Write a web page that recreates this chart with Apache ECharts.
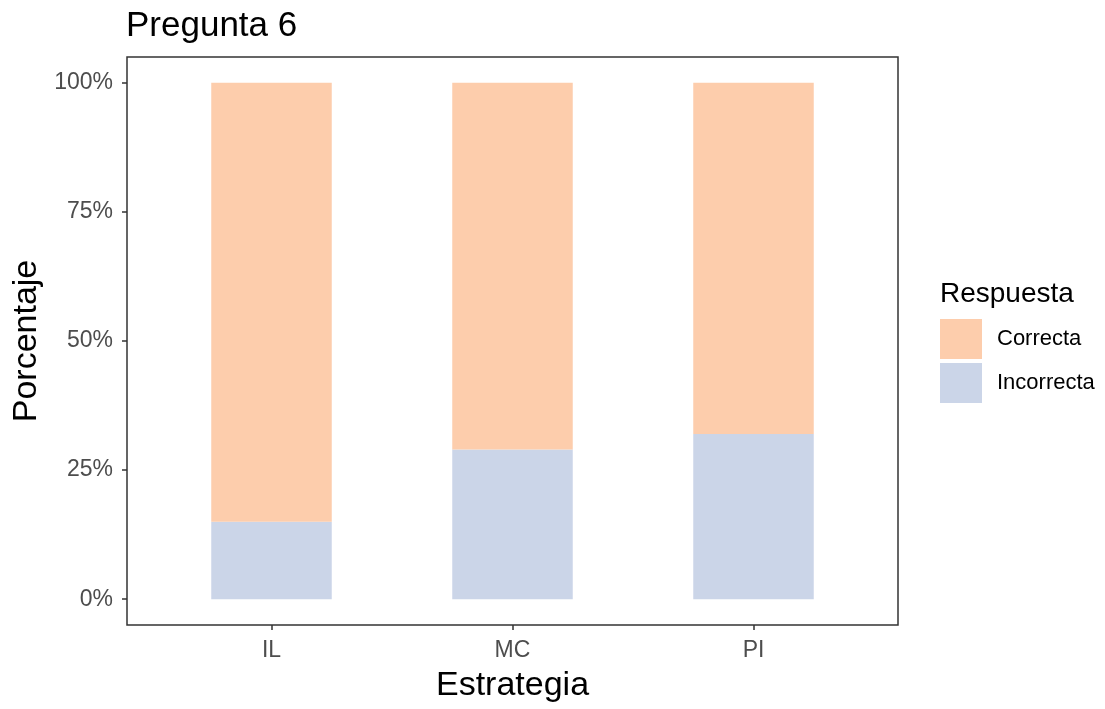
<!DOCTYPE html>
<html>
<head>
<meta charset="utf-8">
<script src="https://cdn.jsdelivr.net/npm/echarts@6/dist/echarts.min.js"></script>
<style>html,body{margin:0;padding:0;background:#fff;}#c{width:1105px;height:709px;}</style>
</head>
<body>
<div id="c"></div>
<script>
const categories = ['IL', 'MC', 'PI'];
const incorrecta = [15, 29, 32];
const correcta = [85, 71, 68];
const yTicks = [0, 25, 50, 75, 100];
const seriesNames = ['Correcta', 'Incorrecta'];
const colors = { Correcta: '#FDCDAC', Incorrecta: '#CBD5E8' };

const chart = echarts.init(document.getElementById('c'));
const font = 'Liberation Sans, Arial, sans-serif';
chart.setOption({
  animation: false,
  backgroundColor: '#fff',
  title: [
    { text: 'Pregunta 6', left: 121, top: 4, textStyle: { fontFamily: font, fontSize: 35, fontWeight: 'normal', color: '#000' } },
    { text: 'Respuesta', left: 935, top: 275, textStyle: { fontFamily: font, fontSize: 28, fontWeight: 'normal', color: '#000' } }
  ],
  graphic: [
    { type: 'rect', shape: { x: 127, y: 57, width: 771, height: 568 }, style: { fill: 'none', stroke: '#333', lineWidth: 1.5 }, z: 10 }
  ],
  legend: {
    data: seriesNames,
    orient: 'vertical',
    left: 940,
    top: 319,
    padding: 0,
    itemWidth: 42,
    itemHeight: 40,
    itemGap: 4,
    textStyle: { fontFamily: font, fontSize: 22, color: '#000', padding: [0, 0, 0, 10] },
    icon: 'rect'
  },
  grid: { left: 151, right: 231, top: 57, bottom: 84 },
  xAxis: {
    type: 'category',
    data: categories,
    name: 'Estrategia',
    nameLocation: 'middle',
    nameGap: 44,
    nameTextStyle: { fontFamily: font, fontSize: 34, color: '#000' },
    axisLine: { show: false, onZero: false },
    axisTick: { show: true, alignWithLabel: true, length: 5, lineStyle: { color: '#333', width: 1.5 } },
    axisLabel: { fontFamily: font, fontSize: 23, color: '#4D4D4D', margin: 14 }
  },
  yAxis: {
    type: 'value',
    min: -5, max: 105,
    offset: 24,
    name: 'Porcentaje',
    nameLocation: 'middle',
    nameGap: 82,
    nameTextStyle: { fontFamily: font, fontSize: 34, color: '#000' },
    axisLine: { show: false, onZero: false },
    splitLine: { show: false },
    axisTick: { show: true, length: 5, customValues: yTicks, lineStyle: { color: '#333', width: 1.5 } },
    axisLabel: { fontFamily: font, fontSize: 23, color: '#4D4D4D', margin: 14,
      customValues: yTicks, formatter: v => v + '%' }
  },
  series: [
    { name: 'Incorrecta', type: 'bar', stack: 'a', data: incorrecta, barWidth: '50%', itemStyle: { color: colors.Incorrecta } },
    { name: 'Correcta', type: 'bar', stack: 'a', data: correcta, barWidth: '50%', itemStyle: { color: colors.Correcta } }
  ]
});
</script>
</body>
</html>
